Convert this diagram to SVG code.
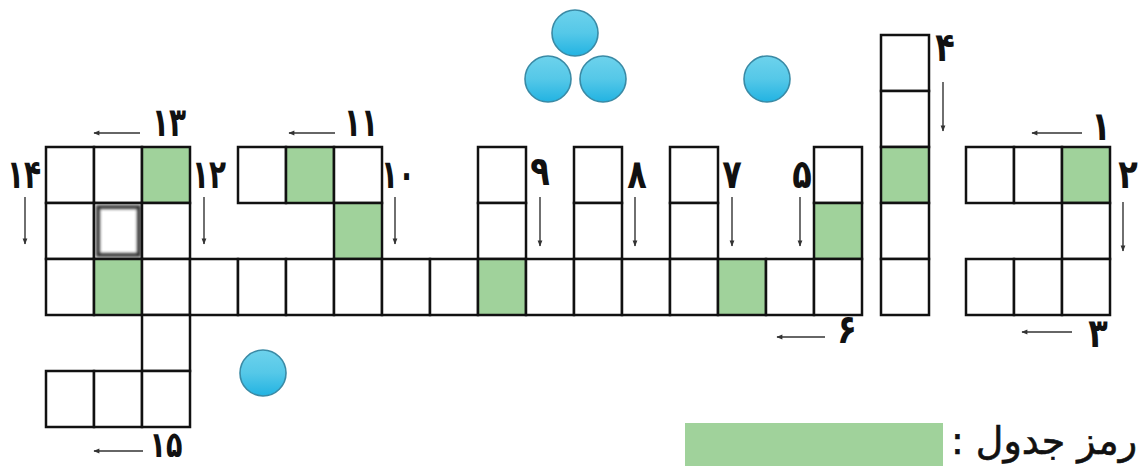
<svg xmlns="http://www.w3.org/2000/svg" width="1142" height="466" viewBox="0 0 1142 466">
<defs>
<style>
.c{fill:#ffffff;stroke:#111111;stroke-width:2.5}
.g{fill:#a0d29b;stroke:#111111;stroke-width:2.5}
.n{font-family:"DejaVu Sans",sans-serif;font-weight:bold;font-size:40px;fill:#111111;text-anchor:middle}
.a{stroke:#333333;stroke-width:1.4;fill:none;marker-end:url(#ah)}
.b{fill:url(#bg);stroke:#3a8aa5;stroke-width:1.6}
</style>
<marker id="ah" viewBox="0 0 10 10" refX="9" refY="5" markerWidth="7" markerHeight="6" orient="auto" markerUnits="userSpaceOnUse">
<path d="M0,1 L10,5 L0,9 Z" fill="#333333"/>
</marker>
<linearGradient id="bg" x1="0" y1="0" x2="0" y2="1">
<stop offset="0" stop-color="#6dd2ec"/>
<stop offset="0.5" stop-color="#55c8e8"/>
<stop offset="1" stop-color="#22b3e2"/>
</linearGradient>
<filter id="blur" x="-20%" y="-20%" width="140%" height="140%">
<feGaussianBlur stdDeviation="1.6"/>
</filter>
</defs>
<rect width="1142" height="466" fill="#ffffff"/>

<g id="grid">
<g id="cell-147-46"><rect class="c" x="46" y="147" width="48" height="56"/></g>
<g id="cell-147-94"><rect class="c" x="94" y="147" width="48" height="56"/></g>
<g id="cell-147-142"><rect class="g" x="142" y="147" width="48" height="56"/></g>
<g id="cell-147-238"><rect class="c" x="238" y="147" width="48" height="56"/></g>
<g id="cell-147-286"><rect class="g" x="286" y="147" width="48" height="56"/></g>
<g id="cell-147-334"><rect class="c" x="334" y="147" width="48" height="56"/></g>
<g id="cell-147-478"><rect class="c" x="478" y="147" width="48" height="56"/></g>
<g id="cell-147-574"><rect class="c" x="574" y="147" width="48" height="56"/></g>
<g id="cell-147-670"><rect class="c" x="670" y="147" width="48" height="56"/></g>
<g id="cell-147-814"><rect class="c" x="814" y="147" width="48" height="56"/></g>
<g id="cell-147-966"><rect class="c" x="966" y="147" width="48" height="56"/></g>
<g id="cell-147-1014"><rect class="c" x="1014" y="147" width="48" height="56"/></g>
<g id="cell-147-1062"><rect class="g" x="1062" y="147" width="48" height="56"/></g>

<g id="cell-203-46"><rect class="c" x="46" y="203" width="48" height="56"/></g>
<g id="cell-203-94"><rect class="c" x="94" y="203" width="48" height="56"/><rect x="98" y="207" width="41" height="48" fill="none" stroke="#333333" stroke-width="4" filter="url(#blur)"/></g>
<g id="cell-203-142"><rect class="c" x="142" y="203" width="48" height="56"/></g>
<g id="cell-203-334"><rect class="g" x="334" y="203" width="48" height="56"/></g>
<g id="cell-203-478"><rect class="c" x="478" y="203" width="48" height="56"/></g>
<g id="cell-203-574"><rect class="c" x="574" y="203" width="48" height="56"/></g>
<g id="cell-203-670"><rect class="c" x="670" y="203" width="48" height="56"/></g>
<g id="cell-203-814"><rect class="g" x="814" y="203" width="48" height="56"/></g>
<g id="cell-203-1062"><rect class="c" x="1062" y="203" width="48" height="56"/></g>

<g id="cell-259-46"><rect class="c" x="46" y="259" width="48" height="56"/></g>
<g id="cell-259-94"><rect class="g" x="94" y="259" width="48" height="56"/></g>
<g id="cell-259-142"><rect class="c" x="142" y="259" width="48" height="56"/></g>
<g id="cell-259-190"><rect class="c" x="190" y="259" width="48" height="56"/></g>
<g id="cell-259-238"><rect class="c" x="238" y="259" width="48" height="56"/></g>
<g id="cell-259-286"><rect class="c" x="286" y="259" width="48" height="56"/></g>
<g id="cell-259-334"><rect class="c" x="334" y="259" width="48" height="56"/></g>
<g id="cell-259-382"><rect class="c" x="382" y="259" width="48" height="56"/></g>
<g id="cell-259-430"><rect class="c" x="430" y="259" width="48" height="56"/></g>
<g id="cell-259-478"><rect class="g" x="478" y="259" width="48" height="56"/></g>
<g id="cell-259-526"><rect class="c" x="526" y="259" width="48" height="56"/></g>
<g id="cell-259-574"><rect class="c" x="574" y="259" width="48" height="56"/></g>
<g id="cell-259-622"><rect class="c" x="622" y="259" width="48" height="56"/></g>
<g id="cell-259-670"><rect class="c" x="670" y="259" width="48" height="56"/></g>
<g id="cell-259-718"><rect class="g" x="718" y="259" width="48" height="56"/></g>
<g id="cell-259-766"><rect class="c" x="766" y="259" width="48" height="56"/></g>
<g id="cell-259-814"><rect class="c" x="814" y="259" width="48" height="56"/></g>
<g id="cell-259-966"><rect class="c" x="966" y="259" width="48" height="56"/></g>
<g id="cell-259-1014"><rect class="c" x="1014" y="259" width="48" height="56"/></g>
<g id="cell-259-1062"><rect class="c" x="1062" y="259" width="48" height="56"/></g>

<g id="cell-315-142"><rect class="c" x="142" y="315" width="48" height="56"/></g>
<g id="cell-371-46"><rect class="c" x="46" y="371" width="48" height="56"/></g>
<g id="cell-371-94"><rect class="c" x="94" y="371" width="48" height="56"/></g>
<g id="cell-371-142"><rect class="c" x="142" y="371" width="48" height="56"/></g>

<g id="cell-35-881"><rect class="c" x="881" y="35" width="48" height="56"/></g>
<g id="cell-91-881"><rect class="c" x="881" y="91" width="48" height="56"/></g>
<g id="cell-147-881"><rect class="g" x="881" y="147" width="48" height="56"/></g>
<g id="cell-203-881"><rect class="c" x="881" y="203" width="48" height="56"/></g>
<g id="cell-259-881"><rect class="c" x="881" y="259" width="48" height="56"/></g>
</g>

<g id="connectors">
<line class="a" x1="140" y1="133" x2="94" y2="133"/>
<line class="a" x1="335" y1="133" x2="289" y2="133"/>
<line class="a" x1="25" y1="197" x2="25" y2="244"/>
<line class="a" x1="204" y1="197" x2="204" y2="244"/>
<line class="a" x1="395" y1="197" x2="395" y2="244"/>
<line class="a" x1="540" y1="197" x2="540" y2="246"/>
<line class="a" x1="635" y1="197" x2="635" y2="246"/>
<line class="a" x1="732" y1="197" x2="732" y2="246"/>
<line class="a" x1="800" y1="197" x2="800" y2="246"/>
<line class="a" x1="825" y1="337" x2="777" y2="337"/>
<line class="a" x1="943" y1="82" x2="943" y2="131"/>
<line class="a" x1="1082" y1="133" x2="1032" y2="133"/>
<line class="a" x1="1123" y1="202" x2="1123" y2="251"/>
<line class="a" x1="1072" y1="332" x2="1022" y2="332"/>
<line class="a" x1="143" y1="451" x2="94" y2="451"/>
</g>

<g id="labels">
<text class="n" transform="translate(169,136) scale(0.7,1)">۱۳</text>
<text class="n" transform="translate(361,136) scale(0.7,1)">۱۱</text>
<text class="n" transform="translate(24,188) scale(0.7,1)">۱۴</text>
<text class="n" transform="translate(209,188) scale(0.7,1)">۱۲</text>
<text class="n" transform="translate(398,188) scale(0.7,1)">۱۰</text>
<text class="n" transform="translate(540,185) scale(0.8,1)">۹</text>
<text class="n" transform="translate(637,188) scale(0.8,1)">۸</text>
<text class="n" transform="translate(732,188) scale(0.8,1)">۷</text>
<text class="n" transform="translate(802,188) scale(0.8,1)">۵</text>
<text class="n" transform="translate(847,343) scale(0.8,1)">۶</text>
<text class="n" transform="translate(945,61) scale(0.8,1)">۴</text>
<text class="n" transform="translate(1101,140) scale(0.8,1)">۱</text>
<text class="n" transform="translate(1128,188) scale(0.8,1)">۲</text>
<text class="n" transform="translate(1098,347) scale(0.8,1)">۳</text>
<text class="n" transform="translate(166,457) scale(0.75,1)" style="font-size:36px">۱۵</text>
</g>

<g id="balls">
<circle class="b" cx="575" cy="33" r="23"/>
<circle class="b" cx="548" cy="79" r="23"/>
<circle class="b" cx="603" cy="79" r="23"/>
<circle class="b" cx="767" cy="79" r="23"/>
<circle class="b" cx="263" cy="373" r="23"/>
</g>

<g id="legend">
<rect x="685" y="423" width="258" height="43" fill="#a0d29b"/>
<text x="1137" y="454" direction="rtl" text-anchor="start" font-family="DejaVu Sans, sans-serif" font-size="38" fill="#111111" stroke="#111111" stroke-width="0.6">رمز جدول :</text>
</g>
</svg>
